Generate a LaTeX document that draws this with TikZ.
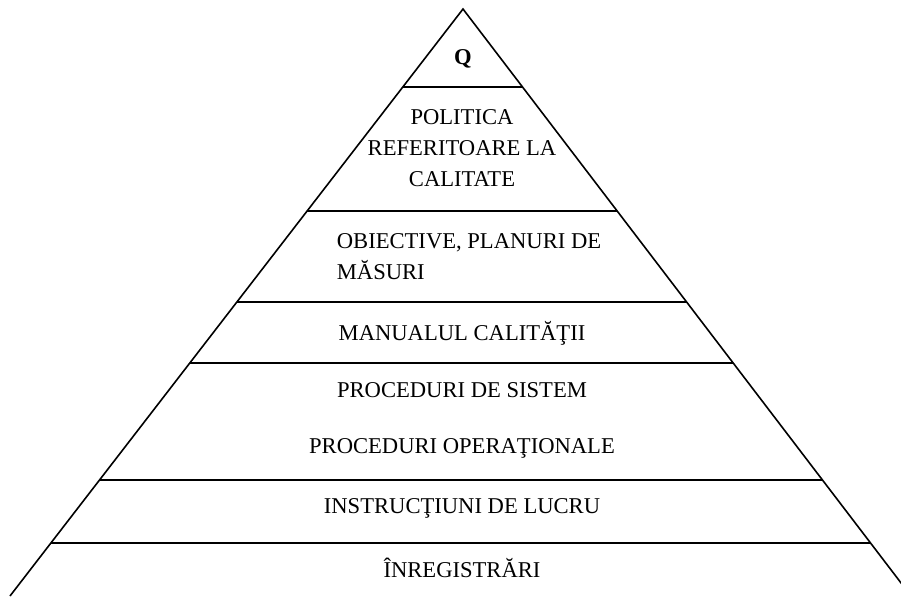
\documentclass[tikz,border=0pt]{standalone}
\usepackage{fontspec}
\setmainfont{Liberation Serif}
\usepackage{tikz}

\tikzset{
  etaj/.style={font=\fontsize{11.3}{15.5}\selectfont, align=center, inner sep=0pt},
  linie/.style={line width=0.8pt}
}

\begin{document}
\begin{tikzpicture}[x=0.5pt,y=-0.5pt]
        \useasboundingbox (0,0) rectangle (901,596);
        \clip (0,0) rectangle (901,596);
        % piramida
        \coordinate (varf) at (463,9);
        \coordinate (stanga) at (10,596);
        \coordinate (dreapta) at (911,596);
        \draw[linie] (stanga) -- (varf) -- (dreapta);
        % nivelurile
        \draw[linie] (403,87) -- (522,87);
        \draw[linie] (307,211) -- (617,211);
        \draw[linie] (237,302) -- (687,302);
        \draw[linie] (190,363) -- (733,363);
        \draw[linie] (100,480) -- (822,480);
        \draw[linie] (51,543) -- (870,543);
        % textele
        \node[etaj, font=\fontsize{11.3}{13}\selectfont\bfseries] (q) at (463,59) {Q};
        \node[etaj] (politica) at (462,148) {POLITICA\\REFERITOARE LA\\CALITATE};
        \node[etaj, align=left] (obiective) at (469,257) {OBIECTIVE, PLANURI DE\\MĂSURI};
        \node[etaj] (manual) at (462,333) {MANUALUL CALITĂŢII};
        \node[etaj] (sistem) at (462,390) {PROCEDURI DE SISTEM};
        \node[etaj] (operational) at (462,448) {PROCEDURI OPERAŢIONALE};
        \node[etaj] (instructiuni) at (462,508) {INSTRUCŢIUNI DE LUCRU};
        \node[etaj] (inregistrari) at (462,568) {ÎNREGISTRĂRI};
\end{tikzpicture}
\end{document}
